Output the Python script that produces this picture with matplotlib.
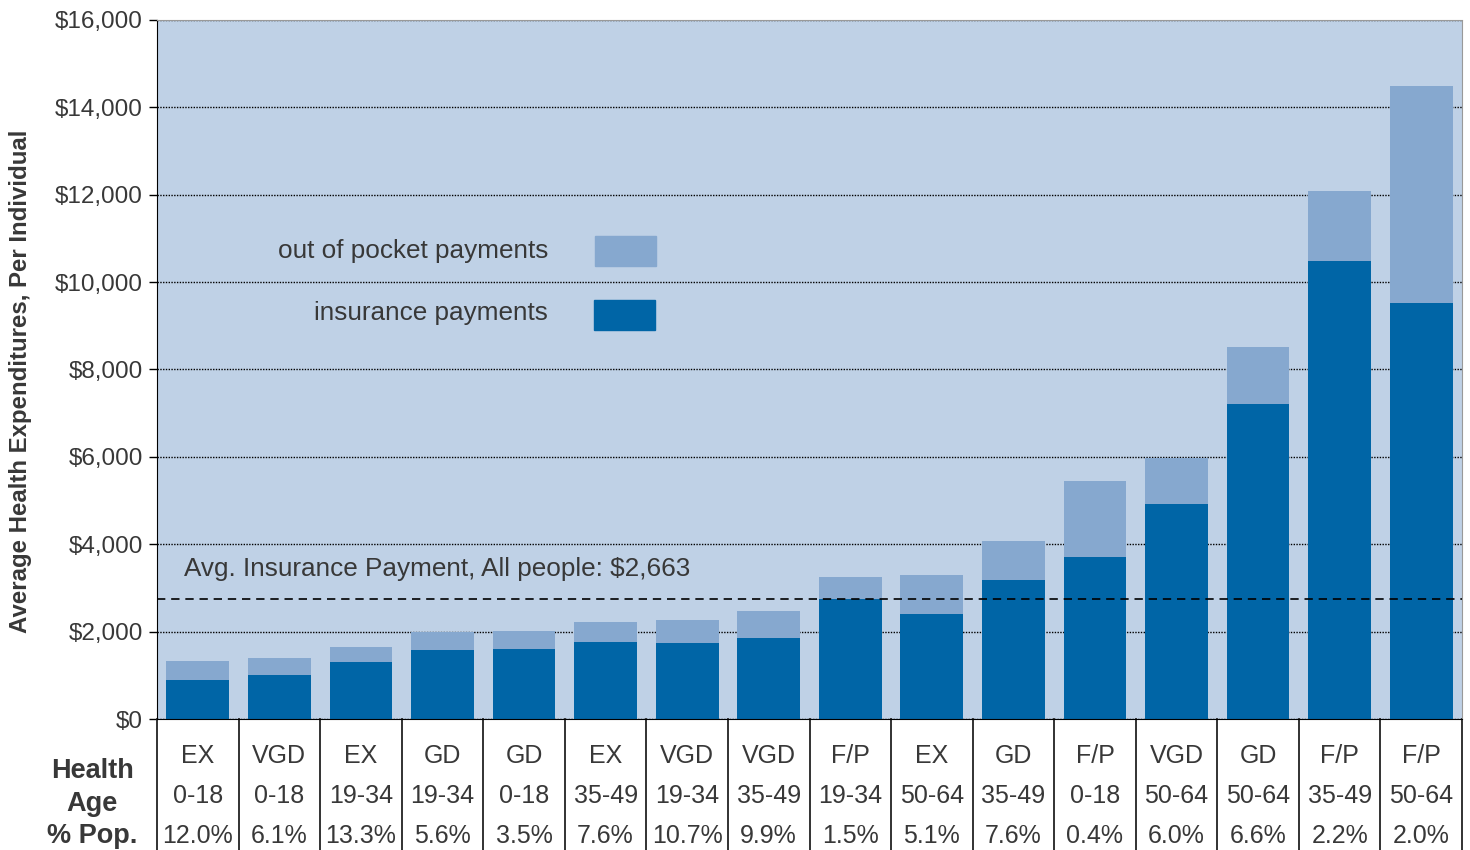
"""Average health expenditures per individual, by health status and age group,
stacked as insurance vs. out-of-pocket payments, with a table of labels below."""

import matplotlib
matplotlib.use("Agg")
import matplotlib.pyplot as plt
from matplotlib.patches import Rectangle
from matplotlib.ticker import FuncFormatter

plt.rcParams["font.family"] = ["Liberation Sans", "DejaVu Sans"]

health = ["EX", "VGD", "EX", "GD", "GD", "EX", "VGD", "VGD",
          "F/P", "EX", "GD", "F/P", "VGD", "GD", "F/P", "F/P"]
age = ["0-18", "0-18", "19-34", "19-34", "0-18", "35-49", "19-34", "35-49",
       "19-34", "50-64", "35-49", "0-18", "50-64", "50-64", "35-49", "50-64"]
pop_share = ["12.0%", "6.1%", "13.3%", "5.6%", "3.5%", "7.6%", "10.7%", "9.9%",
             "1.5%", "5.1%", "7.6%", "0.4%", "6.0%", "6.6%", "2.2%", "2.0%"]

insurance = [893, 1007, 1305, 1579, 1602, 1762, 1740, 1854,
             2747, 2403, 3181, 3708, 4921, 7210, 10483, 9521]
total = [1328, 1396, 1648, 1991, 2014, 2220, 2266, 2472,
         3250, 3296, 4074, 5447, 5974, 8514, 12085, 14488]
out_of_pocket = [t - i for t, i in zip(total, insurance)]

avg_insurance_line = 2750
avg_label = "Avg. Insurance Payment, All people: $2,663"

DARK = "#0065a6"
LIGHT = "#86a8cf"
BG = "#bfd1e6"
TXT = "#383838"

W, H = 1470, 850
fig = plt.figure(figsize=(W / 100, H / 100), dpi=100)
ax = fig.add_axes([157 / W, (H - 719) / H, 1305 / W, 699 / H])
ax.set_facecolor(BG)

x = list(range(len(health)))
ax.bar(x, insurance, width=0.77, color=DARK, zorder=2)
ax.bar(x, out_of_pocket, bottom=insurance, width=0.77, color=LIGHT, zorder=2)
ax.axhline(avg_insurance_line, color="black", linestyle=(0, (5, 3.5)), linewidth=1.2, zorder=3)
ax.text(0.021, avg_insurance_line + 680, avg_label, transform=ax.get_yaxis_transform(),
        fontsize=18.8, color=TXT, va="center", ha="left")

ax.set_xlim(-0.5, len(health) - 0.5)
ax.set_ylim(0, 16000)
ax.set_yticks(range(0, 16001, 2000))
ax.yaxis.set_major_formatter(FuncFormatter(lambda v, _: f"${v:,.0f}"))
ax.tick_params(axis="y", labelsize=17.5, colors="black", length=6, width=1, pad=4)
for lab in ax.get_yticklabels():
    lab.set_color(TXT)
ax.set_xticks([])
ax.grid(axis="y", color="black", linestyle=(0, (1, 1)), linewidth=1, zorder=1)
ax.set_axisbelow(True)
ax.spines["left"].set_color("black")
ax.spines["bottom"].set_color("black")
ax.spines["bottom"].set_linestyle((0, (1, 1)))
ax.spines["top"].set_color("#999999")
ax.spines["right"].set_color("#999999")
ax.spines["right"].set_linestyle((0, (1, 1)))

ax.set_ylabel("Average Health Expenditures, Per Individual", fontsize=17.3,
              fontweight="bold", color=TXT)
ax.yaxis.set_label_coords(-0.096, 0.483)

# legend drawn as text + boxes, like the original
fig.text(548 / W, 1 - 251 / H, "out of pocket payments", fontsize=18.8, color=TXT,
         ha="right", va="center")
fig.text(548 / W, 1 - 313 / H, "insurance payments", fontsize=18.8, color=TXT,
         ha="right", va="center")
fig.patches.append(Rectangle((595 / W, 1 - 266 / H), 61 / W, 30 / H, color=LIGHT,
                             transform=fig.transFigure, figure=fig))
fig.patches.append(Rectangle((594 / W, 1 - 330 / H), 61 / W, 30 / H, color=DARK,
                             transform=fig.transFigure, figure=fig))

# table under the bars
tr = ax.get_xaxis_transform()
table_bottom = -(H - 719) / 699
for b in range(len(health) + 1):
    ax.plot([b - 0.5, b - 0.5], [0, table_bottom], transform=tr, color="#222222",
            linewidth=1.3, clip_on=False)
row_y = [-0.053, -0.110, -0.167]
for i in x:
    for ry, val in zip(row_y, (health[i], age[i], pop_share[i])):
        ax.text(i, ry, val, transform=tr, fontsize=18, color=TXT,
                ha="center", va="center", clip_on=False)
for ry, lab in zip([1 - 771 / H, 1 - 804 / H, 1 - 836 / H], ["Health", "Age", "% Pop."]):
    fig.text(92 / W, ry, lab, fontsize=19.5, fontweight="bold", color=TXT,
             ha="center", va="center")

fig.savefig("out.png", dpi=100)
